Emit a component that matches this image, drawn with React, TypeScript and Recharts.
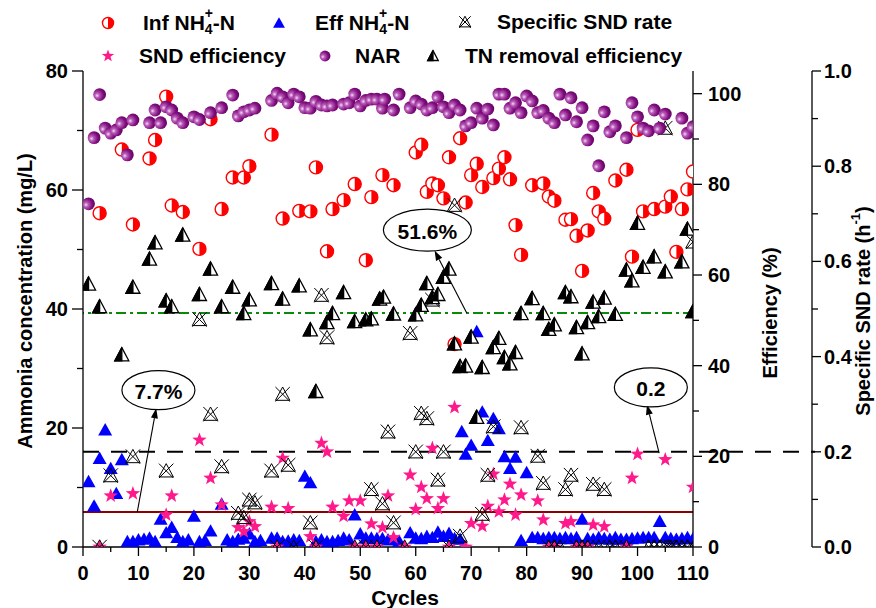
import React from 'react';
import { ScatterChart, Scatter, XAxis, YAxis, ReferenceLine, ReferenceDot } from 'recharts';

const FONT = '"Liberation Sans", Arial, Helvetica, sans-serif';

// ---- data: [cycle, value] ----
const infNH4: [number, number][] = [
  [3, 56.1], [7, 66.8], [9, 54.2], [12, 65.3], [13, 68.4], [15, 75.7], [16, 57.4], [18, 56.3], [21, 50.1],
  [23, 71.9], [25, 56.8], [27, 62.1], [29, 62.1], [30, 64.0], [34, 69.3], [36, 55.2], [39, 56.5], [41, 56.4],
  [42, 63.8], [44, 49.7], [45, 56.8], [47, 58.3], [49, 61.0], [51, 48.2], [52, 58.8], [54, 62.5], [56, 60.8],
  [60, 66.3], [61, 67.6], [62, 59.7], [63, 61.1], [64, 60.8], [65, 58.6], [66, 65.5], [67, 34.1], [68, 68.7],
  [69, 57.9], [70, 62.5], [71, 64.4], [72, 60.5], [74, 62.0], [75, 63.6], [76, 65.5], [77, 61.8], [78, 54.1],
  [79, 49.1], [81, 60.8], [83, 61.1], [84, 58.9], [85, 58.2], [87, 55.0], [88, 55.1], [89, 52.3], [90, 46.4],
  [91, 53.2], [92, 59.5], [93, 56.4], [94, 55.2], [96, 61.6], [98, 63.4], [99, 48.8], [100, 70.1], [101, 56.4],
  [103, 56.8], [105, 57.2], [106, 58.9], [107, 49.6], [108, 56.8], [109, 60.1], [110, 63.1],
];

const effNH4: [number, number][] = [
  [1, 11.0], [2, 6.9], [3, 14.9], [4, 19.7], [5, 13.2], [6, 9.0], [7, 14.7], [8, 0.9], [9, 0.9], [10, 1.2],
  [11, 1.3], [12, 1.5], [13, 0.9], [14, 4.7], [15, 2.4], [16, 3.3], [17, 1.6], [18, 0.9], [19, 1.2], [20, 5.2],
  [21, 0.9], [22, 1.1], [23, 2.7], [25, 7.2], [26, 1.2], [27, 0.9], [28, 1.3], [29, 1.5], [30, 2.2], [31, 0.9],
  [32, 1.1], [34, 1.5], [35, 1.5], [36, 0.9], [37, 1.0], [38, 1.2], [39, 1.1], [40, 11.9], [41, 10.8], [42, 0.9],
  [43, 1.2], [44, 0.9], [45, 0.9], [46, 1.1], [47, 1.5], [48, 1.2], [49, 5.4], [50, 2.2], [51, 1.5], [52, 1.5],
  [53, 1.4], [54, 1.4], [55, 1.2], [56, 1.4], [57, 1.0], [59, 2.4], [60, 1.5], [61, 1.4], [62, 1.8], [63, 1.6],
  [64, 2.5], [65, 1.8], [66, 2.3], [67, 1.4], [68, 1.3], [68.3, 19.4], [69, 15.6], [70, 17.1], [71, 36.2],
  [72, 22.7], [73, 17.9], [74, 21.6], [75, 19.9], [76, 15.2], [77, 13.2], [78, 15.1], [79, 1.1], [80, 12.5],
  [81, 1.6], [82, 1.6], [83, 1.4], [84, 1.6], [85, 1.6], [86, 1.4], [87, 1.6], [88, 1.4], [89, 1.6], [90, 4.7],
  [91, 1.4], [92, 1.3], [93, 1.6], [94, 1.4], [95, 1.3], [96, 1.6], [97, 1.3], [98, 1.3], [99, 1.4], [100, 1.5],
  [101, 1.6], [102, 1.6], [103, 1.6], [104, 4.3], [105, 1.6], [106, 1.4], [107, 1.3], [108, 1.4], [109, 1.6],
  [110, 1.4],
];

const sndRate: [number, number][] = [
  [3, 0], [5, 0.15], [9, 0.19], [15, 0.16], [21, 0.478], [23, 0.279], [25, 0.169], [28, 0.071], [29, 0.062],
  [30, 0.099], [31, 0.093], [34, 0.16], [35, 0], [36, 0.321], [37, 0.172], [38, 0], [41, 0.051], [42, 0],
  [43, 0.529], [44, 0.44], [49, 0], [51, 0], [52, 0.121], [53, 0], [54, 0.091], [55, 0.242], [56, 0.051],
  [58, 0], [59, 0.449], [60, 0.2], [61, 0.281], [62, 0.27], [63, 0.519], [64, 0.141], [65, 0.2], [66, 0],
  [67, 0.718], [68, 0.023], [72, 0.069], [73, 0.151], [74, 0.253], [79, 0.251], [82, 0.191], [83, 0.134],
  [84, 0], [85, 0], [86, 0], [87, 0.121], [88, 0.151], [89, 0], [90, 0], [91, 0], [92, 0.132], [93, 0],
  [94, 0.121], [95, 0], [96, 0], [98, 0], [102, 0], [103, 0], [104, 0], [105, 0.88], [105.5, 0], [106, 0],
  [107, 0], [108, 0], [109, 0], [110, 0.641], [110.2, 0],
];

const sndEfficiency: [number, number][] = [
  [3, 0], [5, 11.3], [9, 11.8], [15, 7.1], [16, 11.3], [21, 23.6], [23, 15.2], [25, 9.3], [28, 4.3], [29, 3.4],
  [30, 5.6], [31, 4.5], [34, 8.8], [35, 0], [36, 19.6], [37, 8.5], [41, 2.3], [42, 0], [43, 22.9], [44, 21.0],
  [45, 8.8], [47, 6.8], [48, 10.2], [49, 0], [50, 10.2], [51, 0], [52, 5.1], [53, 0], [54, 4.3], [55, 11.3],
  [56, 2.1], [58, 0], [59, 15.9], [60, 8.3], [61, 13.2], [62, 10.7], [63, 21.8], [64, 8.5], [65, 10.7], [66, 0],
  [67, 30.8], [69, 0], [70, 5.2], [72, 4.6], [73, 9.0], [74, 16.1], [75, 7.8], [76, 10.4], [77, 13.9], [78, 7.1],
  [79, 11.5], [82, 10.2], [83, 6.0], [84, 0], [85, 0], [87, 5.2], [88, 5.6], [89, 0], [90, 0], [91, 0], [92, 4.9],
  [94, 4.5], [98, 0], [99, 15.2], [100, 20.5], [105, 19.3], [110, 13.2],
];

const nar: [number, number][] = [
  [1, 75.7], [2, 90.3], [3, 99.8], [4, 92.4], [5, 91.3], [6, 92.0], [7, 93.6], [8, 86.5], [9, 94.2], [12, 93.6],
  [13, 96.4], [14, 93.6], [15, 97.1], [16, 96.4], [17, 94.6], [18, 93.6], [20, 94.9], [21, 94.3], [23, 95.8],
  [25, 96.9], [27, 99.7], [28, 95.1], [29, 96.0], [30, 96.4], [31, 96.8], [34, 98.5], [35, 100.1], [36, 99.3],
  [37, 98.0], [38, 99.9], [39, 99.3], [40, 96.9], [41, 96.8], [42, 98.3], [43, 97.5], [44, 97.3], [45, 97.5],
  [47, 97.7], [48, 98.0], [49, 99.9], [50, 97.3], [51, 98.5], [52, 98.8], [53, 98.8], [54, 96.8], [54.4, 98.8],
  [56, 96.4], [57, 99.9], [59, 96.9], [60, 98.4], [61, 97.7], [62, 96.4], [63, 96.9], [64, 99.3], [65, 97.1],
  [66, 95.8], [67, 97.5], [68, 96.4], [69, 92.9], [70, 93.6], [71, 96.8], [72, 94.6], [73, 96.6], [74, 93.1],
  [75, 99.9], [76, 99.9], [77, 96.8], [78, 98.0], [79, 95.8], [80, 99.5], [81, 98.4], [82, 95.8], [83, 96.3],
  [84, 94.6], [85, 93.6], [86, 99.9], [87, 95.3], [88, 99.1], [89, 93.8], [90, 96.9], [91, 89.8], [92, 92.9],
  [93, 84.1], [94, 96.0], [95, 91.6], [96, 92.9], [98, 90.3], [99, 98.0], [100, 94.9], [101, 92.4], [102, 91.8],
  [103, 96.4], [104, 92.4], [105, 95.5], [108, 94.6], [109, 91.3], [110, 92.7],
];

const tnRemoval: [number, number][] = [
  [1, 58.0], [3, 53.0], [7, 42.4], [9, 57.3], [12, 63.5], [13, 67.1], [15, 54.3], [16, 53.0], [18, 68.8],
  [21, 55.7], [23, 61.3], [25, 53.0], [27, 57.3], [29, 51.5], [30, 54.5], [34, 58.1], [36, 54.7], [39, 57.6],
  [41, 47.9], [42, 34.3], [44, 49.5], [45, 51.5], [47, 56.1], [49, 49.7], [51, 50.1], [52, 50.3], [53.5, 54.7],
  [54.2, 55.1], [56, 51.4], [60, 51.2], [61, 53.3], [62, 58.1], [63, 55.0], [64, 55.7], [65, 59.5], [66, 61.3],
  [67, 44.8], [68, 39.8], [69, 39.9], [70, 46.3], [71, 28.6], [72, 39.6], [74, 44.0], [75, 46.0], [76, 41.8],
  [77, 40.4], [78, 42.9], [79, 51.5], [81, 54.8], [83, 51.5], [84, 48.0], [85, 49.0], [87, 56.1], [88, 55.2],
  [89, 48.4], [90, 42.6], [91, 49.5], [92, 54.0], [93, 50.8], [94, 54.9], [96, 51.3], [98, 61.1], [99, 58.7],
  [100, 71.4], [101, 61.7], [103, 64.0], [105, 60.7], [108, 62.9], [109, 70.1], [110, 51.9],
];

// reference values
const tnAverage = 51.6;
const sndAverage = 7.7;
const rateAverage = 0.2;

// ticks
const xTicks = [0, 5, 10, 15, 20, 25, 30, 35, 40, 45, 50, 55, 60, 65, 70, 75, 80, 85, 90, 95, 100, 105, 110];
const concTicks = [0, 10, 20, 30, 40, 50, 60, 70, 80];
const effTicks = [0, 10, 20, 30, 40, 50, 60, 70, 80, 90, 100];
const rateTicks = [0, 0.1, 0.2, 0.3, 0.4, 0.5, 0.6, 0.7, 0.8, 0.9, 1.0];

const pts = (a: [number, number][]) => a.map(([x, y]) => ({ x, y }));

// ---- markers ----
const InfMarker = ({ cx, cy, k = 1 }: any) => {
  const r = 6.5 * k;
  return (
    <g>
      <circle cx={cx} cy={cy} r={r} fill="#fff" stroke="#ff0000" strokeWidth={1.4} />
      <path d={`M${cx},${cy - r} A${r},${r} 0 0 1 ${cx},${cy + r} Z`} fill="#ff0000" />
    </g>
  );
};
const EffMarker = ({ cx, cy, k = 1 }: any) => (
  <path d={`M${cx},${cy - 6.8 * k} L${cx + 7 * k},${cy + 5.6 * k} L${cx - 7 * k},${cy + 5.6 * k} Z`} fill="#0000ff" />
);
const RateMarker = ({ cx, cy, k = 1 }: any) => {
  const s = 7.2 * k;
  return (
    <g fill="none" stroke="#000" strokeWidth={1}>
      <path d={`M${cx},${cy - s} L${cx + s},${cy + s * 0.85} L${cx - s},${cy + s * 0.85} Z`} />
      <line x1={cx - s} y1={cy - s} x2={cx + s} y2={cy + s} />
      <line x1={cx + s} y1={cy - s} x2={cx - s} y2={cy + s} />
    </g>
  );
};
const starPath = (cx: number, cy: number, R: number, r: number) => {
  let d = '';
  for (let i = 0; i < 10; i++) {
    const a = -Math.PI / 2 + (i * Math.PI) / 5;
    const rad = i % 2 === 0 ? R : r;
    d += (i === 0 ? 'M' : 'L') + (cx + rad * Math.cos(a)).toFixed(2) + ',' + (cy + rad * Math.sin(a)).toFixed(2);
  }
  return d + 'Z';
};
const StarMarker = ({ cx, cy, k = 1 }: any) => (
  <path d={starPath(cx, cy, 7.6 * k, 3.1 * k)} fill="#ff1a8c" />
);
const NarMarker = ({ cx, cy, k = 1 }: any) => (
  <circle cx={cx} cy={cy} r={6.4 * k} fill="url(#narGrad)" />
);
const TnMarker = ({ cx, cy, k = 1 }: any) => {
  const w = 7 * k, t = 7.2 * k, b = 6 * k;
  return (
    <g>
      <path d={`M${cx},${cy - t} L${cx + w},${cy + b} L${cx - w},${cy + b} Z`} fill="#fff" stroke="#000" strokeWidth={1.3} />
      <path d={`M${cx},${cy - t} L${cx},${cy + b} L${cx - w},${cy + b} Z`} fill="#000" stroke="#000" strokeWidth={1.3} />
    </g>
  );
};

// ---- ticks ----
const textStyle = { fontFamily: FONT, fontWeight: 'bold' as const, fill: '#000' };

const XTick = (p: any) => {
  const { x, y, payload } = p;
  const v = payload.value;
  const major = v % 10 === 0;
  return (
    <g>
      <line x1={x} y1={y} x2={x} y2={y + (major ? 9 : 5)} stroke="#000" strokeWidth={1.3} />
      {major && (
        <text x={x} y={y + 26} textAnchor="middle" dominantBaseline="central" fontSize={20} {...textStyle}>{v}</text>
      )}
    </g>
  );
};
const ConcTick = (p: any) => {
  const { x, y, payload } = p;
  const v = payload.value;
  const major = v % 20 === 0;
  return (
    <g>
      <line x1={x - (major ? 11 : 6)} y1={y} x2={x} y2={y} stroke="#000" strokeWidth={1.3} />
      {major && (
        <text x={x - 15} y={y} textAnchor="end" dominantBaseline="central" fontSize={20} {...textStyle}>{v}</text>
      )}
    </g>
  );
};
const EffTick = (p: any) => {
  const { x, y, payload } = p;
  const v = payload.value;
  const major = v % 20 === 0;
  return (
    <g>
      <line x1={x} y1={y} x2={x + (major ? 9 : 6)} y2={y} stroke="#000" strokeWidth={1.3} />
      {major && (
        <text x={x + 15} y={y} textAnchor="start" dominantBaseline="central" fontSize={20} {...textStyle}>{v}</text>
      )}
    </g>
  );
};
const RateTick = (p: any) => {
  const { x, y, payload } = p;
  const v = payload.value;
  const major = Math.round(v * 10) % 2 === 0;
  return (
    <g>
      <line x1={x} y1={y} x2={x + (major ? 9 : 6)} y2={y} stroke="#000" strokeWidth={1.3} />
      {major && (
        <text x={x + 12} y={y} textAnchor="start" dominantBaseline="central" fontSize={20} {...textStyle}>{v.toFixed(1)}</text>
      )}
    </g>
  );
};

// ---- axis titles ----
const XTitle = (p: any) => {
  const vb = p.viewBox || { x: 83, y: 547, width: 610, height: 61 };
  return (
    <text x={vb.x + vb.width / 2 + 17} y={vb.y + 50} textAnchor="middle" dominantBaseline="central" fontSize={21} {...textStyle}>Cycles</text>
  );
};
const ConcTitle = (p: any) => {
  const vb = p.viewBox || { x: 0, y: 71, width: 83, height: 476 };
  const cx = vb.x + 25, cy = vb.y + vb.height / 2 - 8;
  return (
    <text transform={`translate(${cx},${cy}) rotate(-90)`} textAnchor="middle" dominantBaseline="central" fontSize={20} {...textStyle}>
      Ammonia concentration (mg/L)
    </text>
  );
};
const EffTitle = (p: any) => {
  const vb = p.viewBox || { x: 693, y: 71, width: 119, height: 476 };
  const cx = vb.x + 77, cy = vb.y + vb.height / 2 + 4;
  return (
    <text transform={`translate(${cx},${cy}) rotate(-90)`} textAnchor="middle" dominantBaseline="central" fontSize={20} {...textStyle}>
      Efficiency (%)
    </text>
  );
};
const RateTitle = (p: any) => {
  const vb = p.viewBox || { x: 812, y: 71, width: 64, height: 476 };
  const cx = vb.x + 51, cy = vb.y + vb.height / 2 + 2;
  return (
    <text transform={`translate(${cx},${cy}) rotate(-90)`} textAnchor="middle" dominantBaseline="central" fontSize={20} {...textStyle}>
      Specific SND rate (h<tspan dy={-8} fontSize={13}>-1</tspan><tspan dy={8}>)</tspan>
    </text>
  );
};

// ---- reference shapes ----
// dashed 0.2 line: drawn across the plot and continued to the third axis
const ExtendedDash = (p: any) => {
  const left = Math.min(p.x1, p.x2);
  const right = Math.max(p.x1, p.x2);
  return (
    <line x1={left} y1={p.y1} x2={right + 122} y2={p.y2} stroke="#000" strokeWidth={2} strokeDasharray="16 12" />
  );
};
const Arrow = (p: any) => {
  const { x1, y1, x2, y2 } = p;
  const dx = x2 - x1, dy = y2 - y1;
  const len = Math.sqrt(dx * dx + dy * dy) || 1;
  const ux = dx / len, uy = dy / len;
  const bx = x2 - ux * 10, by = y2 - uy * 10;
  return (
    <g>
      <line x1={x1} y1={y1} x2={bx} y2={by} stroke="#000" strokeWidth={1.1} />
      <path d={`M${x2},${y2} L${bx - uy * 3.5},${by + ux * 3.5} L${bx + uy * 3.5},${by - ux * 3.5} Z`} fill="#000" />
    </g>
  );
};
const makeBubble = (label: string, rx: number, ry: number) => (p: any) => (
  <g>
    <ellipse cx={p.cx} cy={p.cy} rx={rx} ry={ry} fill="#fff" stroke="#000" strokeWidth={1.2} />
    <text x={p.cx} y={p.cy + 1} textAnchor="middle" dominantBaseline="central" fontSize={21} {...textStyle}>{label}</text>
  </g>
);

// ---- legend ----
const LegendText = ({ x, y, children }: any) => (
  <text x={x} y={y} dominantBaseline="central" fontSize={21} {...textStyle}>{children}</text>
);
const NH4 = ({ prefix }: { prefix: string }) => (
  <>
    {prefix} NH<tspan dy={7} fontSize={14}>4</tspan>
    <tspan dx={-8} dy={-16} fontSize={14}>+</tspan>
    <tspan dy={9}>-N</tspan>
  </>
);

const LegendSvg = () => (
  <svg width={876} height={70} style={{ position: 'absolute', left: 0, top: 0 }}>
    <defs>
      <radialGradient id="narGrad" cx="32%" cy="55%" r="70%" fx="30%" fy="58%">
        <stop offset="0%" stopColor="#f4dcf4" />
        <stop offset="25%" stopColor="#b95cb9" />
        <stop offset="65%" stopColor="#82107f" />
        <stop offset="100%" stopColor="#5e0060" />
      </radialGradient>
    </defs>
    <InfMarker cx={108} cy={23} k={0.85} />
    <LegendText x={143} y={22}><NH4 prefix="Inf" /></LegendText>
    <EffMarker cx={279} cy={23} k={0.85} />
    <LegendText x={315} y={22}><NH4 prefix="Eff" /></LegendText>
    <RateMarker cx={465} cy={22} k={0.8} />
    <LegendText x={497} y={21}>Specific SND rate</LegendText>
    <StarMarker cx={108} cy={56} k={0.85} />
    <LegendText x={139} y={55}>SND efficiency</LegendText>
    <NarMarker cx={325} cy={56} k={0.85} />
    <LegendText x={355} y={55}>NAR</LegendText>
    <TnMarker cx={433} cy={56} k={0.75} />
    <LegendText x={465} y={55}>TN removal efficiency</LegendText>
  </svg>
);

export default function App() {
  return (
    <div style={{ position: 'absolute', left: 0, top: 0, width: 876, height: 608, background: '#fff' }}>
      <ScatterChart width={876} height={608} margin={{ top: 71, right: 0, bottom: 0, left: 0 }}>
        <XAxis
          type="number" dataKey="x" domain={[0, 110]} ticks={xTicks} interval={0} allowDataOverflow
          tickLine={false} tickSize={0} tickMargin={0} tick={<XTick />} height={61}
          axisLine={{ stroke: '#000', strokeWidth: 1.3 }} label={<XTitle />}
        />
        <YAxis
          yAxisId="conc" type="number" dataKey="y" orientation="left" domain={[0, 80]} ticks={concTicks} interval={0}
          allowDataOverflow width={83} tickLine={false} tickSize={0} tickMargin={0} tick={<ConcTick />}
          axisLine={{ stroke: '#000', strokeWidth: 1.3 }} label={<ConcTitle />}
        />
        <YAxis
          yAxisId="eff" type="number" dataKey="y" orientation="right" domain={[0, 105]} ticks={effTicks} interval={0}
          allowDataOverflow width={119} tickLine={false} tickSize={0} tickMargin={0} tick={<EffTick />}
          axisLine={{ stroke: '#000', strokeWidth: 1.3 }} label={<EffTitle />}
        />
        <YAxis
          yAxisId="rate" type="number" dataKey="y" orientation="right" domain={[0, 1]} ticks={rateTicks} interval={0}
          allowDataOverflow width={64} tickLine={false} tickSize={0} tickMargin={0} tick={<RateTick />}
          axisLine={{ stroke: '#000', strokeWidth: 1.3 }} label={<RateTitle />}
        />

        <ReferenceLine yAxisId="eff" y={tnAverage} stroke="#0a8a0a" strokeWidth={2} strokeDasharray="10 4 3 4" />
        <ReferenceLine yAxisId="eff" y={sndAverage} stroke="#8b0000" strokeWidth={2} />
        <ReferenceLine yAxisId="rate" y={rateAverage} shape={ExtendedDash} />

        <Scatter name="Inf NH4+-N" yAxisId="conc" data={pts(infNH4)} shape={(p: any) => <InfMarker cx={p.cx} cy={p.cy} />} isAnimationActive={false} />
        <Scatter name="Eff NH4+-N" yAxisId="conc" data={pts(effNH4)} shape={(p: any) => <EffMarker cx={p.cx} cy={p.cy} />} isAnimationActive={false} />
        <Scatter name="SND efficiency" yAxisId="eff" data={pts(sndEfficiency)} shape={(p: any) => <StarMarker cx={p.cx} cy={p.cy} />} isAnimationActive={false} />
        <Scatter name="Specific SND rate" yAxisId="rate" data={pts(sndRate)} shape={(p: any) => <RateMarker cx={p.cx} cy={p.cy} />} isAnimationActive={false} />
        <Scatter name="NAR" yAxisId="eff" data={pts(nar)} shape={(p: any) => <NarMarker cx={p.cx} cy={p.cy} />} isAnimationActive={false} />
        <Scatter name="TN removal efficiency" yAxisId="eff" data={pts(tnRemoval)} shape={(p: any) => <TnMarker cx={p.cx} cy={p.cy} />} isAnimationActive={false} />

        <ReferenceLine yAxisId="eff" segment={[{ x: 69.2, y: 51.6 }, { x: 63.4, y: 65.4 }]} shape={Arrow} />
        <ReferenceLine yAxisId="eff" segment={[{ x: 9.8, y: 7.8 }, { x: 13.2, y: 30.6 }]} shape={Arrow} />
        <ReferenceLine yAxisId="eff" segment={[{ x: 103.9, y: 20.7 }, { x: 101.7, y: 31.4 }]} shape={Arrow} />
        <ReferenceDot yAxisId="eff" x={62.1} y={69.9} r={1} shape={makeBubble('51.6%', 44, 21)} />
        <ReferenceDot yAxisId="eff" x={13.6} y={34.6} r={1} shape={makeBubble('7.7%', 36.5, 19.5)} />
        <ReferenceDot yAxisId="eff" x={102.4} y={35.2} r={1} shape={makeBubble('0.2', 36.5, 19.5)} />
      </ScatterChart>
      <LegendSvg />
    </div>
  );
}
